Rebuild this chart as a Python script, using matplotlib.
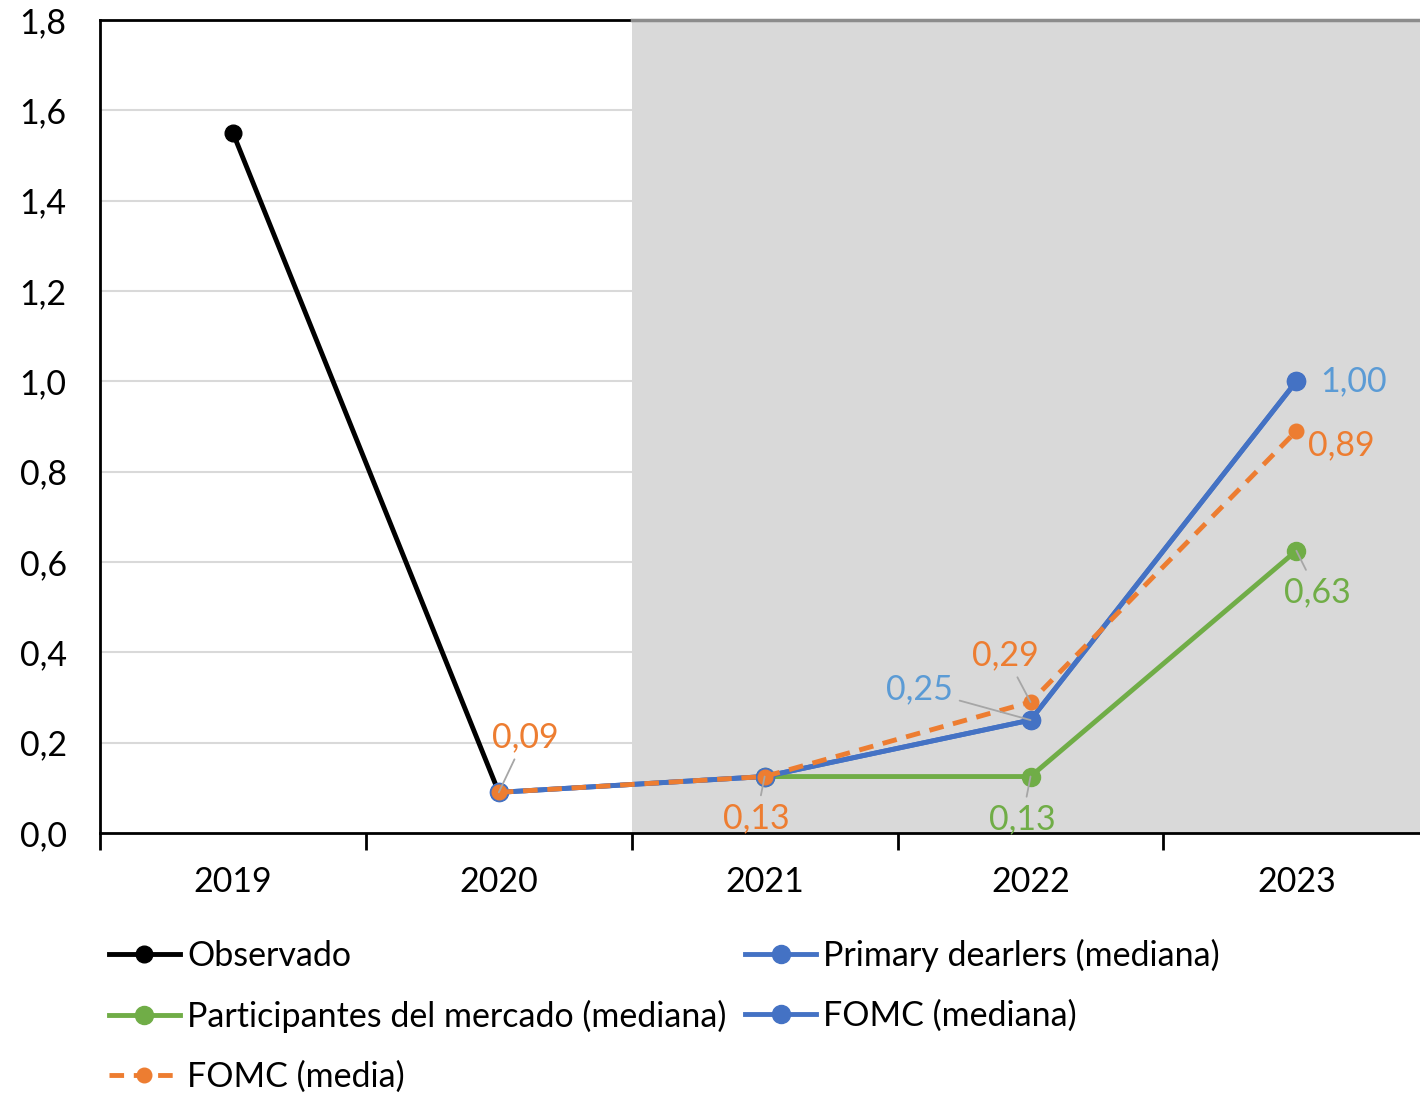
import numpy as np
import matplotlib.pyplot as plt
from matplotlib.ticker import FixedLocator, FuncFormatter
from decimal import Decimal, ROUND_HALF_UP

plt.rcParams["font.family"] = ["Lato", "DejaVu Sans"]

# data
years = ["2019", "2020", "2021", "2022", "2023"]
observado = [1.55, 0.09, np.nan, np.nan, np.nan]
primary_dealers = [np.nan, 0.09, 0.125, 0.25, 1.00]
participantes = [np.nan, np.nan, 0.125, 0.125, 0.625]
fomc_mediana = [np.nan, 0.09, 0.125, 0.25, 1.00]
fomc_media = [np.nan, 0.09, 0.125, 0.29, 0.89]

BLACK = "#000000"
BLUE = "#4472C4"
BLUE_LBL = "#5B9BD5"
GREEN = "#70AD47"
ORANGE = "#ED7D31"
GRAY_LEADER = "#A6A6A6"
FS = 24.5


def fmt_comma(v):
    d = Decimal(str(v)).quantize(Decimal("0.01"), rounding=ROUND_HALF_UP)
    return str(d).replace(".", ",")


fig = plt.figure(figsize=(14.2, 10.94), dpi=100)
ax = fig.add_axes([100 / 1420, 1 - 833 / 1094, 1 - 100 / 1420, (833 - 20) / 1094])

x = np.arange(len(years))
ax.set_xlim(-0.5, 4.465)
ax.set_ylim(0, 1.8)

# grid + projection shading
for yv in np.arange(0.2, 1.8, 0.2):
    ax.axhline(yv, color="#D9D9D9", lw=1.5, zorder=0)
ax.axvspan(1.5, 4.6, color="#D9D9D9", zorder=1, lw=0)
ax.plot([1.5, 4.6], [1.8, 1.8], color="#8C8C8C", lw=2.5, zorder=3, clip_on=False)

lw = 3.5
ax.plot(x, observado, color=BLACK, lw=lw, marker="o", ms=12, zorder=4, label="Observado")
ax.plot(x, participantes, color=GREEN, lw=lw, marker="o", ms=13, zorder=4,
        label="Participantes del mercado (mediana)")
ax.plot(x, primary_dealers, color=BLUE, lw=lw, marker="o", ms=13, zorder=5,
        label="Primary dearlers (mediana)")
ax.plot(x, fomc_mediana, color=BLUE, lw=lw, marker="o", ms=13, zorder=5,
        label="FOMC (mediana)")
ax.plot(x, fomc_media, color=ORANGE, lw=lw, ls=(0, (3, 2)), marker="o", ms=10.5,
        zorder=6, label="FOMC (media)")

# data labels: (series, index, colour, offset in points, leader line)
labels = [
    (fomc_media, 1, ORANGE, (19, 40), True),
    (fomc_media, 2, ORANGE, (-6, -30), True),
    (fomc_mediana, 3, BLUE_LBL, (-80, 22), True),
    (fomc_media, 3, ORANGE, (-18, 34), True),
    (participantes, 3, GREEN, (-6, -31), True),
    (fomc_mediana, 4, BLUE_LBL, (41, 0), False),
    (fomc_media, 4, ORANGE, (32, -10), False),
    (participantes, 4, GREEN, (15, -30), True),
]
for series, i, col, off, leader in labels:
    kw = {}
    if leader:
        kw["arrowprops"] = dict(arrowstyle="-", color=GRAY_LEADER, lw=1.3,
                                shrinkA=3, shrinkB=0)
    ax.annotate(fmt_comma(series[i]), xy=(x[i], series[i]), xytext=off,
                textcoords="offset points", ha="center", va="center",
                fontsize=FS, color=col, zorder=7, **kw)

# axes styling
ax.spines["right"].set_visible(False)
for s in ["left", "bottom", "top"]:
    ax.spines[s].set_linewidth(2)
    ax.spines[s].set_color("black")
ax.spines["top"].set_zorder(0.5)

ax.set_yticks(np.arange(0, 1.81, 0.2))
ax.yaxis.set_major_formatter(FuncFormatter(lambda v, p: f"{v:.1f}".replace(".", ",")))
ax.tick_params(axis="y", length=0, pad=24, labelsize=FS)

ax.set_xticks(x)
ax.set_xticklabels(years)
ax.xaxis.set_minor_locator(FixedLocator([-0.5, 0.5, 1.5, 2.5, 3.5]))
ax.tick_params(axis="x", which="major", length=0, pad=24, labelsize=FS)
ax.tick_params(axis="x", which="minor", length=12, width=2, direction="out")

handles, lbls = ax.get_legend_handles_labels()
order = [0, 1, 4, 2, 3]
fig.legend([handles[k] for k in order], [lbls[k] for k in order],
           loc="upper left", bbox_to_anchor=(78 / 1420, 1 - 908 / 1094), ncol=2,
           frameon=False, fontsize=FS, handlelength=2.1, handletextpad=0.2,
           columnspacing=0.55, labelspacing=0.82)

fig.savefig("out.png", dpi=100)
